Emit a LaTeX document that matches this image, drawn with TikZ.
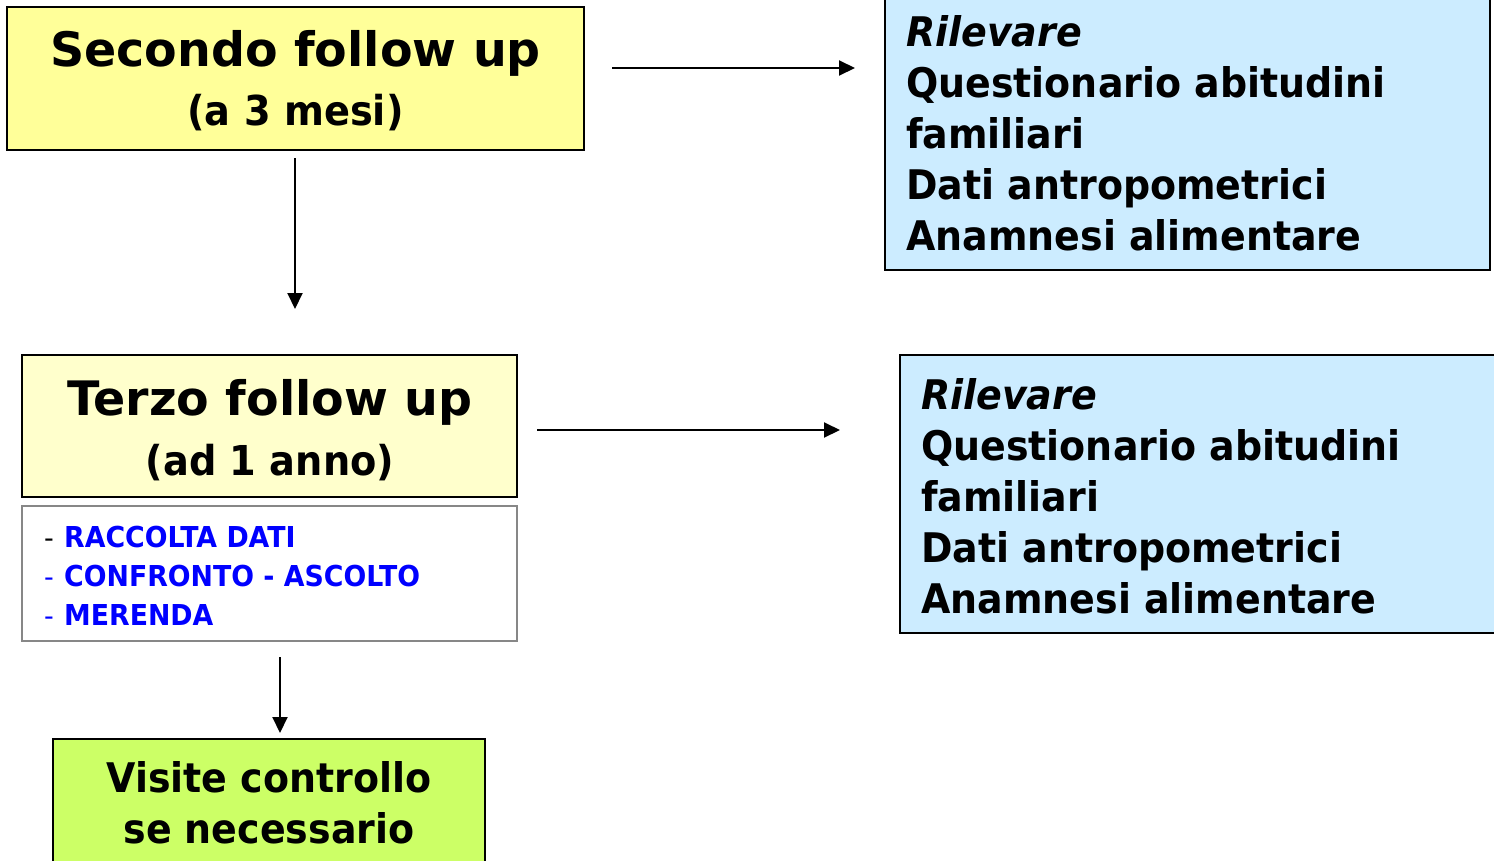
\documentclass[tikz,border=0pt]{standalone}
\usepackage{fontspec}
\setmainfont{DejaVu Sans}
\newfontfamily\narrowfont[FakeStretch=0.93]{DejaVu Sans}
\usetikzlibrary{arrows.meta}
\definecolor{yelA}{HTML}{FFFF99}
\definecolor{yelB}{HTML}{FFFFCC}
\definecolor{bluA}{HTML}{CCECFF}
\definecolor{grnA}{HTML}{CCFF66}
\definecolor{txtblue}{HTML}{0000FF}
\definecolor{graybd}{HTML}{878787}
\tikzset{
 boxshape/.style={draw=black, line width=2.5pt, inner sep=0pt, outer sep=0pt},
 arr/.style={line width=2pt, -{Triangle[length=16pt,width=15pt]}},
 head/.style={anchor=base, inner sep=0pt, font=\bfseries\fontsize{47.5}{57}\selectfont},
 sub/.style={anchor=base, inner sep=0pt, font=\narrowfont\bfseries\fontsize{41.2}{49}\selectfont},
 body/.style={anchor=base west, inner sep=0pt, font=\narrowfont\bfseries\fontsize{40.8}{49}\selectfont},
 dashmark/.style={anchor=base west, inner sep=0pt, font=\fontsize{27}{32}\selectfont},
 lst/.style={anchor=base west, inner sep=0pt, font=\narrowfont\bfseries\fontsize{28.8}{34}\selectfont, text=txtblue},
}
\begin{document}
\begin{tikzpicture}[x=1pt,y=-1pt]
\useasboundingbox (0,0) rectangle (1494,860);
\clip (0,0) rectangle (1494,860);
% boxes
\node[boxshape, fill=yelA, minimum width=577pt, minimum height=143pt] (sec) at (295.5,78.5) {};
\node[boxshape, fill=bluA, minimum width=605pt, minimum height=290pt] (blu1) at (1187.5,125) {};
\node[boxshape, fill=yelB, minimum width=495pt, minimum height=142pt] (ter) at (269.5,426) {};
\node[boxshape, draw=graybd, fill=white, minimum width=495pt, minimum height=135pt] (lstbox) at (269.5,573.5) {};
\node[boxshape, fill=bluA, minimum width=620pt, minimum height=278pt] (blu2) at (1210,494) {};
\node[boxshape, fill=grnA, minimum width=432pt, minimum height=141pt] (grn) at (269,809.5) {};
% box texts
\node[head] (sec1) at (295.5,66) {Secondo follow up};
\node[sub] (sec2) at (295.5,125) {(a 3 mesi)};
\node[head] (ter1) at (270,415) {Terzo follow up};
\node[sub] (ter2) at (270,475) {(ad 1 anno)};
\node[sub, font=\narrowfont\bfseries\fontsize{40.8}{49}\selectfont] (grn1) at (269,792) {Visite controllo};
\node[sub, font=\narrowfont\bfseries\fontsize{40.8}{49}\selectfont] (grn2) at (269,843) {se necessario};
% blue box 1
\node[body, font=\narrowfont\bfseries\itshape\fontsize{40.8}{49}\selectfont] (b1a) at (906,46) {Rilevare};
\node[body] (b1b) at (906,97) {Questionario abitudini};
\node[body] (b1c) at (906,148) {familiari};
\node[body] (b1d) at (906,199) {Dati antropometrici};
\node[body] (b1e) at (906,250) {Anamnesi alimentare};
% blue box 2
\node[body, font=\narrowfont\bfseries\itshape\fontsize{40.8}{49}\selectfont] (b2a) at (921,409) {Rilevare};
\node[body] (b2b) at (921,460) {Questionario abitudini};
\node[body] (b2c) at (921,511) {familiari};
\node[body] (b2d) at (921,562) {Dati antropometrici};
\node[body] (b2e) at (921,613) {Anamnesi alimentare};
% list
\node[dashmark] (d1) at (44,547) {-};
\node[dashmark, text=txtblue] (d2) at (44,586) {-};
\node[dashmark, text=txtblue] (d3) at (44,625) {-};
\node[lst] (l1) at (64,547) {RACCOLTA DATI};
\node[lst] (l2) at (64,586) {CONFRONTO - ASCOLTO};
\node[lst] (l3) at (64,625) {MERENDA};
% connectors
\coordinate (a1s) at (612,68);
\coordinate (a1e) at (855,68);
\coordinate (a2s) at (295,158);
\coordinate (a2e) at (295,309);
\coordinate (a3s) at (537,430);
\coordinate (a3e) at (840,430);
\coordinate (a4s) at (280,657);
\coordinate (a4e) at (280,733);
\draw[arr] (a1s) -- (a1e);
\draw[arr] (a2s) -- (a2e);
\draw[arr] (a3s) -- (a3e);
\draw[arr] (a4s) -- (a4e);
\end{tikzpicture}
\end{document}
